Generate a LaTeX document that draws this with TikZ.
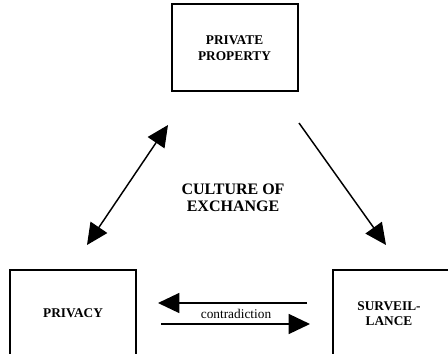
\documentclass[tikz,border=0pt]{standalone}
\usepackage{fontspec}
\setmainfont{Liberation Serif}
\usetikzlibrary{arrows.meta}
\tikzset{
	box/.style={draw, inner sep=0pt, minimum width=94.5pt, minimum height=64.5pt},
	boxtext/.style={align=center, font=\bfseries\fontsize{10}{11.5}\selectfont},
	link/.style={line width=1.1pt, -{Triangle[length=16pt,width=15pt]}},
}
\begin{document}
\begin{tikzpicture}[x=0.75pt, y=-0.75pt]
		\clip (0,0) rectangle (448,353);
		\useasboundingbox (0,0) rectangle (448,353);
		% the three boxes
		\node[box, line width=1.5pt] (property) at (234.5,47.5) {};
		\node[boxtext] (propertytext) at (234.5,48) {PRIVATE\\PROPERTY};
		\node[box, line width=0.8pt] (privacy) at (73,313) {};
		\node[boxtext] (privacytext) at (73,313) {PRIVACY};
		\node[box, line width=1.2pt] (surveillance) at (396,313) {};
		\node[boxtext] (surveillancetext) at (389,313.5) {SURVEIL-\\LANCE};
		\node[align=center, font=\bfseries\fontsize{12}{13}\selectfont] (culture) at (233,198) {CULTURE OF\\EXCHANGE};
		% arrow ends
		\coordinate (pl) at (87,245);
		\coordinate (pu) at (168,125);
		\coordinate (su) at (299,123);
		\coordinate (sl) at (386,245);
		\coordinate (cr) at (307,303);
		\coordinate (cl) at (158,303);
		\coordinate (dl) at (161,324);
		\coordinate (dr) at (310,324);
		\draw[link, {Triangle[length=16pt,width=15pt]}-{Triangle[length=16pt,width=15pt]}] (pl) -- (pu);
		\draw[link] (su) -- (sl);
		\draw[link] (cr) -- (cl);
		\draw[link] (dl) -- (dr);
		\node[font=\fontsize{10}{12}\selectfont] (contra) at (236,314) {contradiction};
	\end{tikzpicture}
\end{document}
